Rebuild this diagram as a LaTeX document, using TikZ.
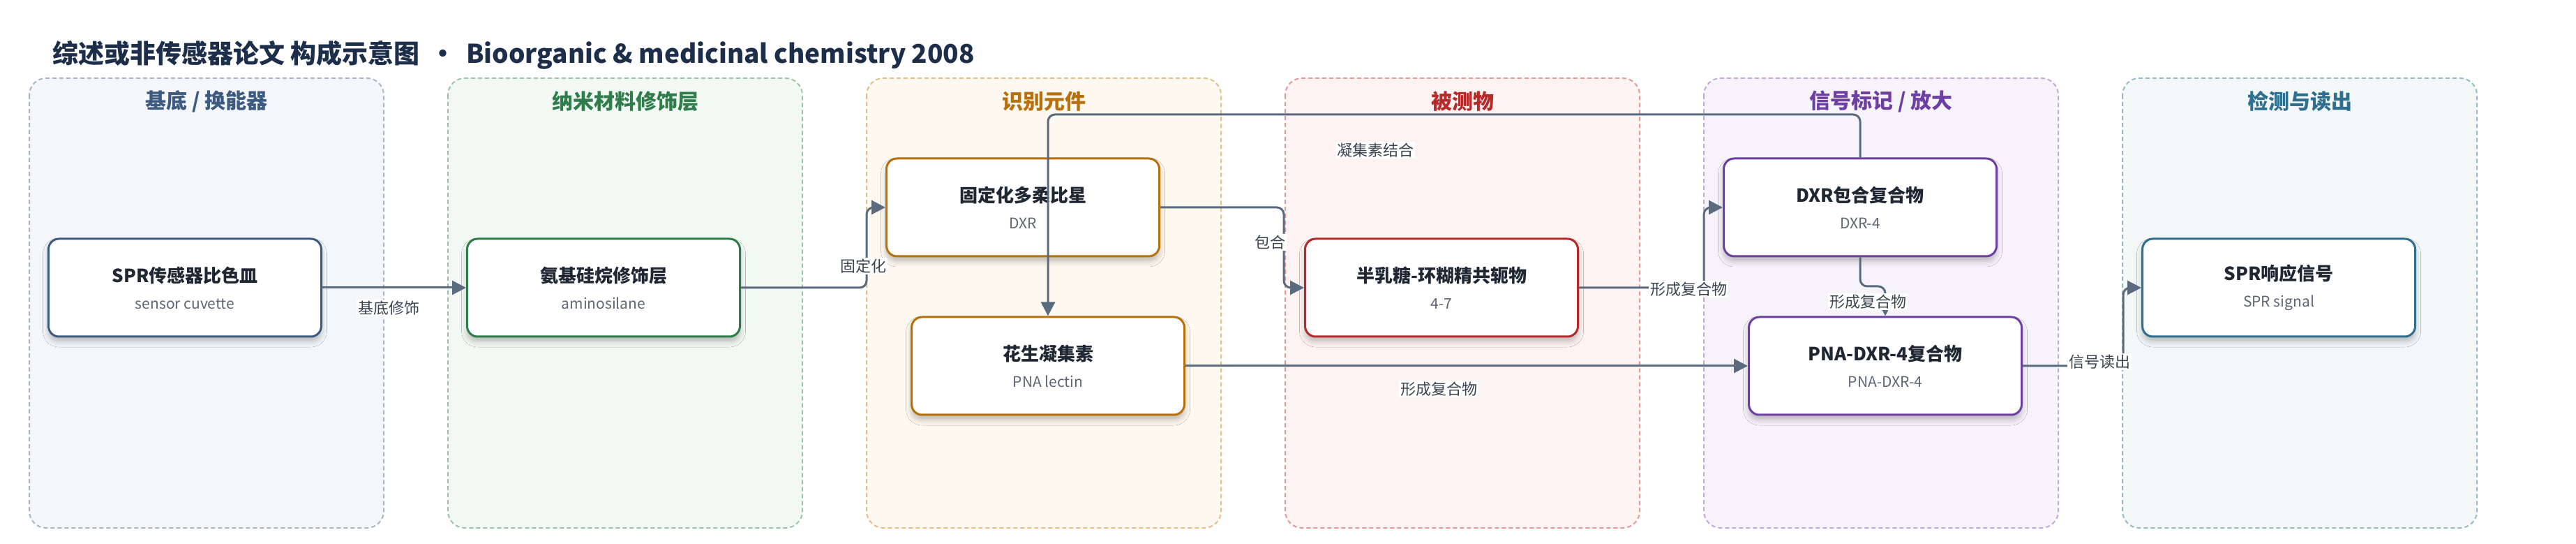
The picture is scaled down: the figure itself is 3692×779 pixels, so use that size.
\documentclass[tikz,border=0pt]{standalone}
\usepackage{fontspec}
\setmainfont{Noto Sans CJK SC}
\usetikzlibrary{arrows.meta,shadows.blur}
\definecolor{edgec}{HTML}{5B6B7F}
\definecolor{lblc}{HTML}{3C4450}
\definecolor{ttlc}{HTML}{1F2733}
\definecolor{subc}{HTML}{5F6672}
\definecolor{mainc}{HTML}{1C2E4A}
\definecolor{laneAf}{HTML}{F5F6FA}\definecolor{laneAd}{HTML}{A8B4C8}\definecolor{laneAt}{HTML}{3D5A80}
\definecolor{laneBf}{HTML}{F2F8F4}\definecolor{laneBd}{HTML}{9CC4A8}\definecolor{laneBt}{HTML}{2E7D4A}
\definecolor{laneCf}{HTML}{FDF8F0}\definecolor{laneCd}{HTML}{E4C088}\definecolor{laneCt}{HTML}{B8700A}
\definecolor{laneDf}{HTML}{FDF3F2}\definecolor{laneDd}{HTML}{E49A98}\definecolor{laneDt}{HTML}{B52A2A}
\definecolor{laneEf}{HTML}{F7F3FB}\definecolor{laneEd}{HTML}{C4A8DC}\definecolor{laneEt}{HTML}{6D3FA3}
\definecolor{laneFf}{HTML}{F3F7F8}\definecolor{laneFd}{HTML}{98BAC8}\definecolor{laneFt}{HTML}{2E6E8E}
\newcommand{\bx}[2]{{\fontsize{13pt}{19pt}\selectfont\bfseries\color{ttlc}#1}\\{\fontsize{10.5pt}{19pt}\selectfont\color{subc}#2}}
\begin{document}
\begin{tikzpicture}[x=0.5pt,y=-0.5pt,
  lanebox/.style={line width=1pt,dash pattern=on 3pt off 2pt,rounded corners=12pt},
  lanetitle/.style={font=\fontsize{15pt}{18pt}\selectfont\bfseries,anchor=center},
  box/.style={draw,line width=1.5pt,fill=white,rounded corners=7.5pt,
    minimum width=195.5pt,minimum height=70pt,align=center,inner sep=0pt,
    font=\fontsize{10.5pt}{19pt}\selectfont,
    blur shadow={shadow xshift=0pt,shadow yshift=-3.5pt,shadow blur radius=4pt,shadow opacity=25}},
  conn/.style={draw=edgec,line width=1.5pt,rounded corners=5pt,-{Triangle[length=10pt,width=10pt]}},
  lbl/.style={fill=white,inner sep=1pt,text=lblc,font=\fontsize{11pt}{13pt}\selectfont}]
\useasboundingbox (0,0) rectangle (3692,779);
% lanes
\draw[lanebox,fill=laneAf,draw=laneAd] (42,112) rectangle (550,756);
\draw[lanebox,fill=laneBf,draw=laneBd] (642,112) rectangle (1150,756);
\draw[lanebox,fill=laneCf,draw=laneCd] (1242,112) rectangle (1750,756);
\draw[lanebox,fill=laneDf,draw=laneDd] (1842,112) rectangle (2350,756);
\draw[lanebox,fill=laneEf,draw=laneEd] (2442,112) rectangle (2950,756);
\draw[lanebox,fill=laneFf,draw=laneFd] (3042,112) rectangle (3550,756);
\node[lanetitle,text=laneAt] (tA) at (296,145) {基底 / 换能器};
\node[lanetitle,text=laneBt] (tB) at (896,145) {纳米材料修饰层};
\node[lanetitle,text=laneCt] (tC) at (1496,145) {识别元件};
\node[lanetitle,text=laneDt] (tD) at (2096,145) {被测物};
\node[lanetitle,text=laneEt] (tE) at (2696,145) {信号标记 / 放大};
\node[lanetitle,text=laneFt] (tF) at (3296,145) {检测与读出};
% main title
\node[anchor=west,text=mainc,font=\fontsize{18.5pt}{22pt}\selectfont\bfseries,inner sep=0pt] (main) at (75,79)
  {综述或非传感器论文 构成示意图 \,·\, Bioorganic \& medicinal chemistry 2008};
% nodes
\node[box,draw=laneAt] (n1) at (265,412) {\bx{SPR传感器比色皿}{sensor cuvette}};
\node[box,draw=laneBt] (n2) at (865,412) {\bx{氨基硅烷修饰层}{aminosilane}};
\node[box,draw=laneCt] (n3) at (1466,297) {\bx{固定化多柔比星}{DXR}};
\node[box,draw=laneCt] (n4) at (1502,524) {\bx{花生凝集素}{PNA lectin}};
\node[box,draw=laneDt] (n5) at (2066,412) {\bx{半乳糖-环糊精共轭物}{4-7}};
\node[box,draw=laneEt] (n6) at (2666,297) {\bx{DXR包合复合物}{DXR-4}};
\node[box,draw=laneEt] (n7) at (2702,524) {\bx{PNA-DXR-4复合物}{PNA-DXR-4}};
\node[box,draw=laneFt] (n8) at (3266,412) {\bx{SPR响应信号}{SPR signal}};
% bend points
\coordinate (b2) at (1242,297);
\coordinate (b3) at (1840,412);
\coordinate (b4) at (1502,164);
\coordinate (b5) at (2442,297);
\coordinate (b6) at (2702,410);
\coordinate (b8) at (3043,412);
% connectors
\draw[conn] (n1.east) -- (n2.west);
\draw[conn] (n2.east) -| (b2) -- (n3.west);
\draw[conn] (n3.east) -| (b3) -- (n5.west);
\draw[conn] (n6.north) |- (b4) -- (n4.north);
\draw[conn] (n5.east) -| (b5) -- (n6.west);
\draw[conn] (n6.south) |- (b6) -- (n7.north);
\draw[conn] (n4.east) -- (n7.west);
\draw[conn] (n7.east) -| (b8) -- (n8.west);
% labels
\node[lbl] (l1) at (557,441) {基底修饰};
\node[lbl] (l2) at (1237,381) {固定化};
\node[lbl] (l3) at (1820,347) {包合};
\node[lbl] (l4) at (1971,215) {凝集素结合};
\node[lbl] (l5) at (2420,414) {形成复合物};
\node[lbl] (l6) at (2677,432) {形成复合物};
\node[lbl] (l7) at (2062,557) {形成复合物};
\node[lbl] (l8) at (3009,518) {信号读出};
\end{tikzpicture}
\end{document}
